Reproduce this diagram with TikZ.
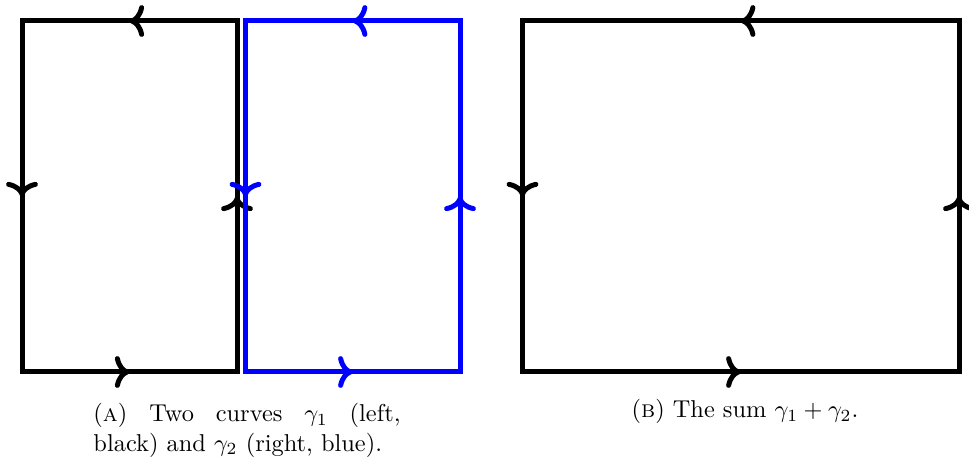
\documentclass[tikz,border=0pt]{standalone}
\usepackage{amsmath,amssymb}
\usepackage{xcolor}
\usetikzlibrary{positioning, arrows.meta, decorations.markings}

\tikzset{
  side/.style={line width=2.05pt, line cap=rect},
  midarrow/.style={postaction={decorate}, decoration={markings,
    mark=at position 0.5 with {\arrow{Computer Modern Rightarrow[length=6pt, width=13pt]}}}},
}

\begin{document}
\begin{tikzpicture}[x=0.41pt, y=0.41pt]
  \useasboundingbox (0,0) rectangle (969,458);
  % curve gamma_1 (left, black)
  \coordinate (a1) at (22,86);
  \coordinate (a2) at (237,86);
  \coordinate (a3) at (237,437);
  \coordinate (a4) at (22,437);
  \draw[side, midarrow] (a1) -- (a2);
  \draw[side, midarrow] (a2) -- (a3);
  \draw[side, midarrow] (a3) -- (a4);
  \draw[side, midarrow] (a4) -- (a1);
  % curve gamma_2 (right, blue)
  \coordinate (b1) at (245.5,86);
  \coordinate (b2) at (460,86);
  \coordinate (b3) at (460,437);
  \coordinate (b4) at (245.5,437);
  \draw[side, midarrow, blue] (b1) -- (b2);
  \draw[side, midarrow, blue] (b2) -- (b3);
  \draw[side, midarrow, blue] (b3) -- (b4);
  \draw[side, midarrow, blue] (b4) -- (b1);
  % the sum
  \coordinate (c1) at (522.5,86);
  \coordinate (c2) at (959,86);
  \coordinate (c3) at (959,437);
  \coordinate (c4) at (522.5,437);
  \draw[side, midarrow] (c1) -- (c2);
  \draw[side, midarrow] (c2) -- (c3);
  \draw[side, midarrow] (c3) -- (c4);
  \draw[side, midarrow] (c4) -- (c1);
  % captions
  \node[anchor=north west, inner sep=0pt, text width=125.9pt, align=justify] (capA) at (93,55)
    {(\textsc{a}) Two curves $\gamma_1$ (left, black) and $\gamma_2$ (right, blue).};
  \node[anchor=base, inner sep=0pt] (capB) at (745,40)
    {(\textsc{b}) The sum $\gamma_1+\gamma_2$.};
\end{tikzpicture}
\end{document}
